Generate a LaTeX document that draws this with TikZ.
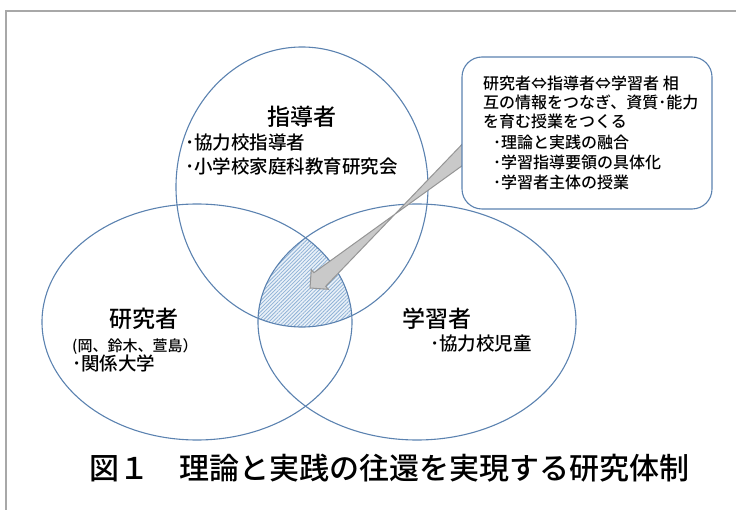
\documentclass[tikz,border=0pt]{standalone}
\usepackage{fontspec}
\setmainfont{Noto Sans CJK JP}[UprightFont={* Medium}]
\usetikzlibrary{calc,patterns.meta}
\definecolor{cline}{HTML}{5B82B0}
\definecolor{hatchc}{HTML}{8FB2D6}
\definecolor{hatchbg}{HTML}{EAF1F8}
\definecolor{arrfill}{HTML}{C9C9C9}
\definecolor{arrline}{HTML}{959595}
\definecolor{framec}{HTML}{A8A8A8}
\begin{document}
\begin{tikzpicture}[x=1pt,y=-1pt,
  ring/.style={draw=cline,line width=1.1pt},
  titletext/.style={font=\fontsize{23}{26}\selectfont,inner sep=0pt},
  itemtext/.style={font=\fontsize{18.5}{21}\selectfont,inner sep=0pt,anchor=west},
  boxtext/.style={font=\fontsize{16}{19}\selectfont,inner sep=0pt,anchor=west}]
\useasboundingbox (0,0) rectangle (736,510);
\draw[framec,line width=1.2pt] (736,11) -- (6,11) -- (6,510);
% triple intersection
\begin{scope}
  \clip (302,187) ellipse [x radius=126,y radius=140];
  \clip (197,322) ellipse [x radius=155,y radius=118];
  \fill[hatchbg] (417,322) ellipse [x radius=159,y radius=118];
  \fill[pattern={Lines[angle=45,distance=2.6pt,line width=0.8pt]},pattern color=hatchc] (417,322) ellipse [x radius=159,y radius=118];
\end{scope}
\draw[ring] (302,187) ellipse [x radius=126,y radius=140];
\draw[ring] (197,322) ellipse [x radius=155,y radius=118];
\draw[ring] (417,322) ellipse [x radius=159,y radius=118];
% texts in circles
\node[titletext] (tS) at (302,117) {指導者};
\node[itemtext] (tS1) at (185,143) {･協力校指導者};
\node[itemtext] (tS2) at (185,166) {･小学校家庭科教育研究会};
\node[titletext] (tK) at (144,319) {研究者};
\node[font=\fontsize{15}{17}\selectfont,inner sep=0pt,anchor=west] (tK1) at (72,347) {(岡、鈴木、萱島）};
\node[itemtext] (tK2) at (72,363) {･関係大学};
\node[titletext] (tG) at (437,319) {学習者};
\node[itemtext] (tG1) at (430,344) {･協力校児童};
% arrow
\coordinate (aS) at (470,149);
\coordinate (aT) at (310,288);
\coordinate (aB) at ($(aT)!13pt!(aS)$);
\filldraw[fill=arrfill,draw=arrline,line width=1pt,line join=miter]
  ($(aS)!9pt!90:(aT)$) -- ($(aB)!9pt!-90:(aT)$) -- ($(aB)!13pt!-90:(aT)$) -- (aT)
  -- ($(aB)!13pt!90:(aT)$) -- ($(aB)!9pt!90:(aT)$) -- ($(aS)!9pt!-90:(aT)$) -- cycle;
% box
\node[draw=cline,line width=1.1pt,fill=white,rounded corners=20pt,minimum width=250pt,minimum height=152pt,inner sep=0pt] (box) at (587,133) {};
\node[boxtext] (b1) at (483,83) {研究者⇔指導者⇔学習者 相};
\node[boxtext] (b2) at (483,102) {互の情報をつなぎ、資質･能力};
\node[boxtext] (b3) at (483,121) {を育む授業をつくる};
\node[boxtext] (b4) at (493,142) {･理論と実践の融合};
\node[boxtext] (b5) at (493,162) {･学習指導要領の具体化};
\node[boxtext] (b6) at (493,182) {･学習者主体の授業};
% caption
\node[font=\fontsize{30}{33}\selectfont,inner sep=0pt] (cap) at (389,468) {図１　理論と実践の往還を実現する研究体制};
\end{tikzpicture}
\end{document}
